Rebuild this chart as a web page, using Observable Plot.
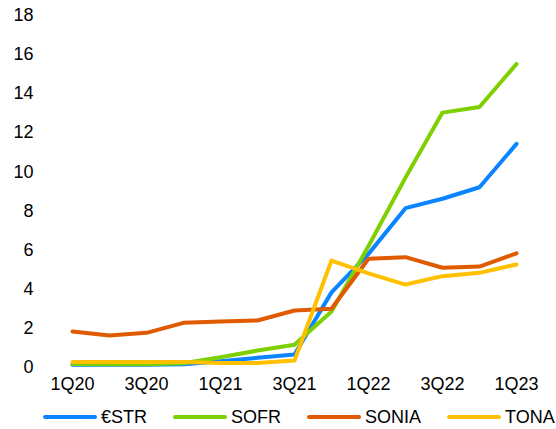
<!DOCTYPE html>
<html><head><meta charset="utf-8">
<script src="https://cdn.jsdelivr.net/npm/d3@7"></script>
<script src="https://cdn.jsdelivr.net/npm/@observablehq/plot@0.6"></script>
<style>
body{margin:0;background:#fff;font-family:"Liberation Sans",Arial,sans-serif;}
#legend{display:flex;align-items:center;height:44px;padding-left:43px;font-size:18px;color:#000;}
.item{display:flex;align-items:center;margin-right:26px;}
.sw{width:54px;height:4px;border-radius:2px;margin-right:4px;}
</style></head><body><div id="chart"></div><div id="legend"></div>
<script>
const quarters = ["1Q20","2Q20","3Q20","4Q20","1Q21","2Q21","3Q21","4Q21","1Q22","2Q22","3Q22","4Q22","1Q23"];
const tickLabels = ["1Q20","3Q20","1Q21","3Q21","1Q22","3Q22","1Q23"];
const yTicks = [0,2,4,6,8,10,12,14,16,18];
const seriesNames = ["€STR","SOFR","SONIA","TONA"];
const seriesColors = ["#0a84ff","#7ed000","#e05a00","#ffc000"];
const estr  = [0.12,0.12,0.12,0.15,0.31,0.48,0.65,3.83,5.8,8.14,8.62,9.21,11.43];
const sofr  = [0.17,0.15,0.15,0.2,0.51,0.85,1.15,2.85,6.2,9.7,13.03,13.32,15.52];
const sonia = [1.83,1.62,1.76,2.27,2.34,2.39,2.9,2.99,5.55,5.63,5.09,5.15,5.83];
const tona  = [0.26,0.26,0.26,0.26,0.22,0.22,0.34,5.46,4.8,4.23,4.66,4.83,5.26];

const seriesValues = [estr, sofr, sonia, tona];
const rows = seriesNames.flatMap((name, s) =>
  quarters.map((q, i) => ({series: name, quarter: q, value: seriesValues[s][i]})));

const chart = Plot.plot({
  width: 556,
  height: 395,
  marginTop: 15,
  marginBottom: 28.3,
  marginLeft: 67,
  marginRight: 35,
  style: {fontSize: "18px", fontFamily: "'Liberation Sans', Arial, sans-serif", color: "#000", background: "#fff"},
  x: {type: "point", domain: quarters, padding: 0},
  y: {domain: [0, 18]},
  color: {domain: seriesNames, range: seriesColors},
  marks: [
    Plot.axisY({ticks: yTicks, tickSize: 0, tickPadding: 34, label: null}),
    Plot.axisX({ticks: tickLabels, tickSize: 0, tickPadding: 10, label: null}),
    Plot.line(rows, {x: "quarter", y: "value", z: "series", stroke: "series",
      strokeWidth: 4, strokeLinejoin: "round", strokeLinecap: "round"})
  ]
});
document.getElementById("chart").appendChild(chart);

const legend = document.getElementById("legend");
seriesNames.forEach((name, i) => {
  const item = document.createElement("div");
  item.className = "item";
  const sw = document.createElement("div");
  sw.className = "sw";
  sw.style.background = seriesColors[i];
  const label = document.createElement("span");
  label.textContent = name;
  item.appendChild(sw);
  item.appendChild(label);
  legend.appendChild(item);
});
</script></body></html>
